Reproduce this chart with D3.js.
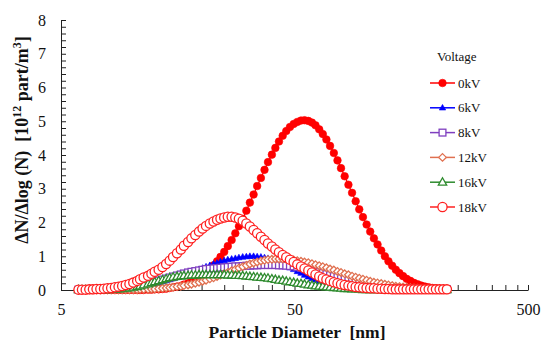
<!DOCTYPE html>
<html><head><meta charset="utf-8">
<script src="https://cdn.jsdelivr.net/npm/d3@7"></script>
<style>
body{margin:0;background:#fff}svg{display:block}
svg text, svg tspan{font-family:"Liberation Serif","Times New Roman",serif !important;}
</style>
</head><body><svg id="c" width="545" height="344"></svg>
<script>
const diameters=[5.94,6.15,6.38,6.61,6.85,7.10,7.37,7.64,7.91,8.20,8.51,8.82,9.14,9.47,9.82,
10.2,10.6,10.9,11.3,11.8,12.2,12.6,13.1,13.6,14.1,14.6,15.1,15.7,16.3,16.8,17.5,18.1,18.8,19.5,
20.2,20.9,21.7,22.5,23.3,24.1,25.0,25.9,26.9,27.9,28.9,30.0,31.1,32.2,33.4,34.6,35.9,37.2,38.5,40.0,41.4,42.9,44.5,46.1,47.8,49.6,
51.4,53.3,55.2,57.3,59.4,61.5,63.8,66.1,68.5,71.0,73.7,76.4,79.1,82.0,85.1,88.2,91.4,94.7,98.2,
101.8,105.5,109.4,113.4,117.6,121.9,126.3,131.0,135.8,140.7,145.9,151.2,156.8,162.5,168.5,174.7,181.1,187.7,194.6,201.7,209.1,216.7,224.7];

const v0kV=[0,0,0,0,0,0,0,0,0,0,0,0,0,0,0,0,0,0,0,0.01,
0.01,0.02,0.02,0.03,0.04,0.06,0.08,0.10,0.12,0.16,
0.20,0.25,0.30,0.37,0.44,0.53,0.62,0.73,0.85,0.98,
1.13,1.30,1.48,1.68,1.89,2.11,2.35,2.59,2.83,3.08,
3.32,3.56,3.79,4.01,4.21,4.40,4.57,4.71,4.83,4.92,
4.98,5.02,5.03,5.01,4.96,4.88,4.76,4.62,4.46,4.27,
4.06,3.84,3.61,3.37,3.12,2.88,2.63,2.39,2.16,1.94,
1.73,1.53,1.35,1.17,1.00,0.85,0.72,0.60,0.50,0.41,
0.33,0.27,0.21,0.17,0.13,0.10,0.08,0.06,0.05,0.04,0.03,0.02];

const v6kV=[0.01,0.01,0.01,0.01,0.02,0.02,0.02,0.03,0.03,0.04,
0.04,0.05,0.05,0.06,0.07,0.09,0.10,0.12,0.14,0.16,
0.18,0.20,0.22,0.25,0.28,0.31,0.34,0.37,0.41,0.45,
0.49,0.53,0.57,0.61,0.65,0.69,0.73,0.77,0.80,0.84,
0.87,0.90,0.92,0.94,0.96,0.98,0.99,1.00,1.00,0.99,
0.98,0.96,0.94,0.90,0.86,0.82,0.77,0.72,0.66,0.61,
0.55,0.50,0.44,0.39,0.34,0.30,0.26,0.22,0.19,0.16,
0.13,0.11,0.09,0.07,0.06,0.05,0.04,0.03,0.02,0.02,
0.01,0.01,0.01,0.01,0.01,0.01,0.01,0.01,0.01,0.01,
0.01,0.01,0.01,0.01,0.01,0.01,0.01,0.01,0.01,0.01,0.01,0.01];

const v8kV=[0.01,0.01,0.01,0.01,0.01,0.02,0.02,0.02,0.03,0.03,
0.04,0.05,0.06,0.07,0.08,0.10,0.12,0.14,0.16,0.19,
0.22,0.25,0.28,0.31,0.34,0.37,0.40,0.43,0.46,0.49,
0.52,0.54,0.56,0.58,0.60,0.62,0.63,0.64,0.65,0.66,
0.67,0.68,0.69,0.70,0.70,0.71,0.72,0.72,0.73,0.73,
0.74,0.74,0.74,0.74,0.74,0.73,0.73,0.72,0.71,0.70,
0.68,0.66,0.64,0.62,0.59,0.56,0.53,0.50,0.47,0.44,
0.41,0.38,0.35,0.32,0.29,0.26,0.23,0.21,0.19,0.17,
0.15,0.13,0.11,0.10,0.09,0.08,0.07,0.06,0.05,0.05,
0.04,0.04,0.03,0.03,0.03,0.02,0.02,0.02,0.02,0.02,0.02,0.02];

const v12kV=[0.01,0.01,0.01,0.01,0.01,0.01,0.01,0.01,0.01,0.01,
0.01,0.01,0.01,0.01,0.01,0.01,0.01,0.02,0.02,0.02,
0.03,0.03,0.04,0.05,0.06,0.07,0.08,0.10,0.11,0.13,
0.15,0.17,0.20,0.23,0.26,0.29,0.33,0.36,0.40,0.44,
0.48,0.52,0.57,0.61,0.65,0.69,0.73,0.77,0.80,0.83,
0.86,0.88,0.90,0.91,0.92,0.92,0.92,0.91,0.90,0.89,
0.87,0.85,0.83,0.81,0.78,0.75,0.72,0.69,0.66,0.62,
0.59,0.55,0.52,0.48,0.45,0.41,0.38,0.35,0.32,0.29,
0.26,0.23,0.21,0.19,0.17,0.15,0.13,0.11,0.10,0.09,
0.08,0.07,0.06,0.05,0.04,0.04,0.03,0.03,0.02,0.02,0.02,0.01];

const v16kV=[0.01,0.01,0.01,0.01,0.01,0.01,0.01,0.01,0.01,0.02,
0.02,0.03,0.04,0.05,0.06,0.08,0.10,0.12,0.15,0.18,
0.21,0.24,0.27,0.30,0.33,0.36,0.38,0.40,0.41,0.42,
0.43,0.44,0.44,0.45,0.45,0.45,0.45,0.45,0.45,0.45,
0.45,0.44,0.44,0.43,0.43,0.42,0.41,0.40,0.39,0.38,
0.37,0.36,0.35,0.33,0.31,0.29,0.28,0.26,0.24,0.22,
0.20,0.19,0.17,0.15,0.14,0.12,0.11,0.10,0.09,0.08,
0.07,0.06,0.05,0.04,0.04,0.03,0.03,0.02,0.01,0.01,
0.01,0.01,0.01,0.01,0.01,0.01,0.01,0.01,0.01,0.01,
0.01,0.01,0.01,0.01,0.01,0.01,0.01,0.01,0.01,0.01,0.01,0.01];

const v18kV=[0.01,0.01,0.01,0.02,0.02,0.03,0.03,0.04,0.05,0.06,
0.08,0.10,0.12,0.15,0.18,0.22,0.27,0.32,0.37,0.42,
0.48,0.54,0.60,0.68,0.77,0.87,0.98,1.09,1.20,1.31,
1.42,1.53,1.63,1.73,1.82,1.90,1.97,2.03,2.08,2.12,
2.15,2.17,2.17,2.15,2.11,2.05,1.97,1.88,1.78,1.68,
1.58,1.48,1.38,1.29,1.20,1.12,1.04,0.97,0.90,0.83,
0.76,0.70,0.64,0.58,0.52,0.46,0.40,0.35,0.31,0.27,
0.23,0.20,0.17,0.15,0.13,0.11,0.09,0.08,0.07,0.06,
0.05,0.05,0.04,0.04,0.03,0.03,0.02,0.02,0.02,0.02,
0.02,0.02,0.02,0.02,0.02,0.02,0.02,0.02,0.02,0.02,0.02,0.02];

const seriesNames=["0kV","6kV","8kV","12kV","16kV","18kV"];
const seriesValues=[v0kV,v6kV,v8kV,v12kV,v16kV,v18kV];
const yTickLabels=[0,1,2,3,4,5,6,7,8];
const xTickLabels=[5,50,500];

const FONT="Liberation Serif";
const styles=[
 {color:"#FF0000",shape:"circle",fill:"#FF0000",size:3.8},
 {color:"#0000FF",shape:"triangle",fill:"#0000FF",size:3.4},
 {color:"#7F3FBF",shape:"square",fill:"#fff",size:3.4},
 {color:"#E07050",shape:"diamond",fill:"#fff",size:3.8},
 {color:"#2E8B2E",shape:"triangle",fill:"#fff",size:4.4},
 {color:"#FF2020",shape:"circle",fill:"#fff",size:4.6}
];

const svg=d3.select("#c");
const x=d3.scaleLog().domain([5,500]).range([61,528]);
const y=d3.scaleLinear().domain([0,8]).range([290,20]);

function serif(sel,size){ sel.attr("font-family",FONT).style("font-family",FONT).style("font-size",size+"px"); return sel; }

// axes
const xMinor=[];
[5,50].forEach(b=>{for(let k=1;k<=10;k++)xMinor.push(b*k);});
const xTicks=Array.from(new Set(xMinor));
const xAxis=d3.axisBottom(x).tickValues(xTicks).tickSizeInner(-5).tickSizeOuter(0).tickPadding(14)
  .tickFormat(d=>xTickLabels.includes(d)?String(d):"");
const gx=svg.append("g").attr("transform","translate(0,290)").call(xAxis);
gx.attr("font-family",null);
serif(gx.selectAll("text"),16).attr("fill","#111");
gx.selectAll("line,path").attr("stroke","#222");

const yTicks=d3.range(0,41).map(i=>i/5);
const yAxis=d3.axisLeft(y).tickValues(yTicks).tickSizeInner(-5).tickSizeOuter(0).tickPadding(15)
  .tickFormat(d=>Math.abs(d-Math.round(d))<1e-6&&yTickLabels.includes(Math.round(d))?String(Math.round(d)):"");
const gy=svg.append("g").attr("transform","translate(61,0)").call(yAxis);
gy.attr("font-family",null);
serif(gy.selectAll("text"),16).attr("fill","#111");
gy.selectAll("line,path").attr("stroke","#222");

// titles
serif(svg.append("text"),17.5).attr("x",297).attr("y",338).attr("text-anchor","middle")
  .attr("font-weight","bold").attr("fill","#111")
  .style("white-space","pre").text("Particle Diameter  [nm]");
const yt=serif(svg.append("text"),18).attr("transform","translate(28,140) rotate(-90)").attr("text-anchor","middle")
  .attr("font-weight","bold").attr("fill","#111").style("white-space","pre");
yt.append("tspan").text("\u0394N/\u0394log (N)  [10");
serif(yt.append("tspan"),12).attr("dy",-7).text("12");
yt.append("tspan").attr("dy",7).text(" part/m");
serif(yt.append("tspan"),12).attr("dy",-7).text("3");
yt.append("tspan").attr("dy",7).text("]");

function drawMarker(g,st,cx,cy){
  const s=st.size;
  let el;
  if(st.shape==="circle"){el=g.append("circle").attr("cx",cx).attr("cy",cy).attr("r",s);}
  else if(st.shape==="square"){el=g.append("rect").attr("x",cx-s).attr("y",cy-s).attr("width",2*s).attr("height",2*s);}
  else if(st.shape==="diamond"){el=g.append("path").attr("d",`M${cx},${cy-s}L${cx+s},${cy}L${cx},${cy+s}L${cx-s},${cy}Z`);}
  else {el=g.append("path").attr("d",`M${cx},${cy-s}L${cx+s*0.95},${cy+s*0.65}L${cx-s*0.95},${cy+s*0.65}Z`);}
  el.attr("fill",st.fill).attr("stroke",st.color).attr("stroke-width",st.fill==="#fff"?1.3:0.6);
}

const line=d3.line().x(d=>x(d[0])).y(d=>y(d[1]));
seriesValues.forEach((vals,si)=>{
  const st=styles[si];
  const pts=diameters.map((d,i)=>[d,vals[i]]);
  const g=svg.append("g");
  g.append("path").attr("d",line(pts)).attr("fill","none").attr("stroke",st.color).attr("stroke-width",1.3);
  pts.forEach(p=>drawMarker(g,st,x(p[0]),y(p[1])));
});

// legend
serif(svg.append("text"),13).attr("x",437).attr("y",61).attr("fill","#111").text("Voltage");
seriesNames.forEach((n,i)=>{
  const st=styles[i];
  const cy=83+i*24.8;
  const g=svg.append("g");
  g.append("line").attr("x1",430).attr("x2",455).attr("y1",cy).attr("y2",cy).attr("stroke",st.color).attr("stroke-width",1.5);
  drawMarker(g,st,442.5,cy);
  serif(g.append("text"),13).attr("x",458).attr("y",cy+4.5).attr("fill","#111").text(n);
});
</script></body></html>
